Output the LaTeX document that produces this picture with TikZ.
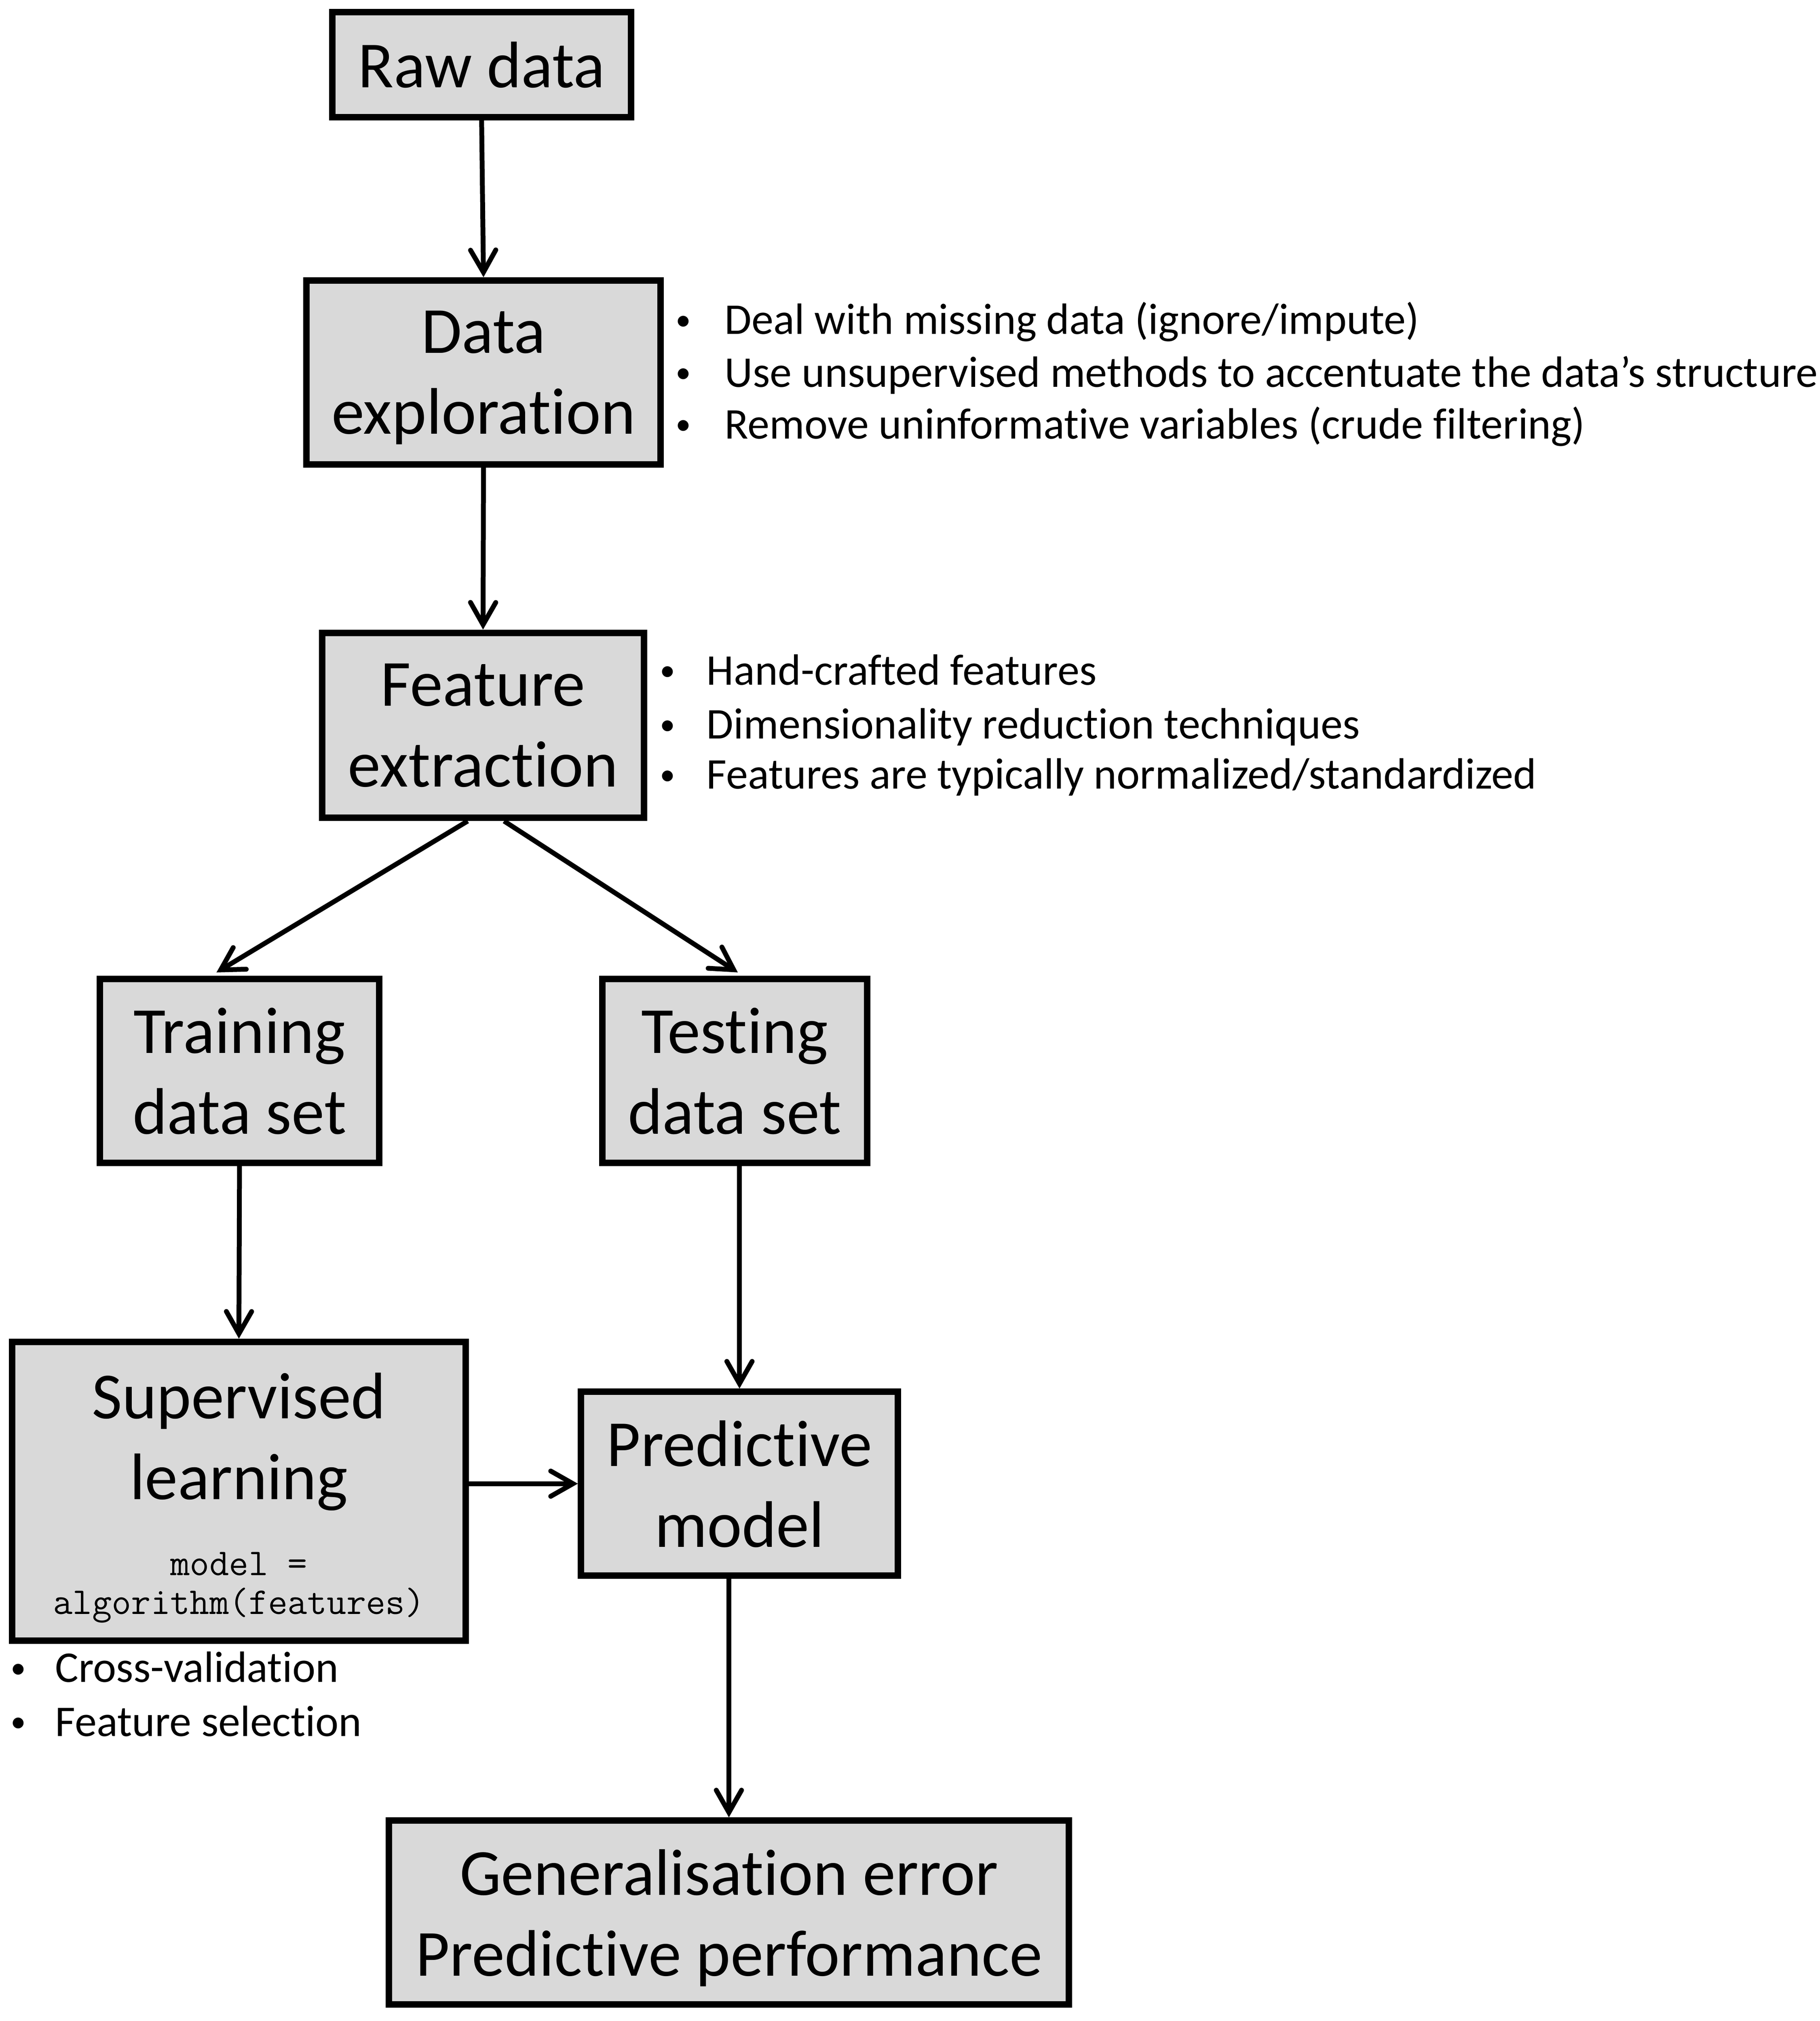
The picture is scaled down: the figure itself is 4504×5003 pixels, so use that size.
\documentclass[tikz,border=0pt]{standalone}
\usepackage{fontspec}
\usepackage{graphicx}
\setmainfont{Carlito}[Ligatures=NoCommon]
\usetikzlibrary{arrows.meta,calc}
\definecolor{boxgray}{HTML}{D9D9D9}
\newcommand{\mybul}[1]{\makebox[#1][l]{\hspace*{1.9pt}\raisebox{2.1pt}{\scalebox{0.7}{•}}}}
\begin{document}
\begin{tikzpicture}[x=0.2pt,y=-0.2pt,
  box/.style={draw=black, line width=3.2pt, fill=boxgray, inner sep=0pt, align=center,
    text depth=0pt, font=\fontsize{32.6pt}{40pt}\selectfont},
  boxtext/.style={inner sep=0pt, align=center, text depth=0pt, font=\fontsize{32.6pt}{40pt}\selectfont},
  codetext/.style={inner sep=0pt, align=center, font=\ttfamily\fontsize{18.8pt}{19.2pt}\selectfont},
  arr/.style={line width=2.4pt, -{Straight Barb[length=11pt,width=12.5pt,line cap=round,line join=miter]}},
  bul/.style={anchor=base west, inner sep=0pt, font=\fontsize{21.7pt}{26pt}\selectfont},
]
\useasboundingbox (0,0) rectangle (4504,5003);

% boxes
\node[box, minimum width=147.9pt, minimum height=52pt] (raw) at (1192,160) {Raw data};
\node[box, minimum width=175.3pt, minimum height=91pt] (dexp) at (1196.7,921.7) {Data\\exploration};
\node[box, minimum width=159.4pt, minimum height=91.6pt] (feat) at (1195.6,1795.5) {Feature\\extraction};
\node[box, minimum width=138.2pt, minimum height=91pt] (train) at (592.8,2650.7) {Training\\data set};
\node[box, minimum width=131.1pt, minimum height=91pt] (test) at (1818.2,2650.7) {Testing\\data set};
\node[box, minimum width=224.4pt, minimum height=147.9pt] (sup) at (591.3,3691.5) {};
\node[boxtext] (suptext) at (591.3,3555) {Supervised\\learning};
\node[codetext] (supcode) at (591.3,3930) {model =\\algorithm(features)};
\node[box, minimum width=156.8pt, minimum height=91pt] (pred) at (1830.3,3672.8) {Predictive\\model};
\node[box, minimum width=336.5pt, minimum height=91pt] (gen) at (1804.1,4734.3) {Generalisation error\\Predictive performance};

% bullet lists
\node[bul] (d1) at (1662,827) {\mybul{26.2pt}Deal with missing data (ignore/impute)};
\node[bul] (d2) at (1662,958) {\mybul{26.2pt}Use unsupervised methods to accentuate the data’s structure};
\node[bul] (d3) at (1662,1086) {\mybul{26.2pt}Remove uninformative variables (crude filtering)};

\node[bul] (f1) at (1623,1695) {\mybul{25pt}Hand-crafted features};
\node[bul] (f2) at (1623,1829) {\mybul{25pt}Dimensionality reduction techniques};
\node[bul] (f3) at (1623,1953) {\mybul{25pt}Features are typically normalized/standardized};

\node[bul] (s1) at (16,4164) {\mybul{24pt}Cross-validation};
\node[bul] (s2) at (16,4298) {\mybul{24pt}Feature selection};

% connectors
\draw[arr] (raw.south) -- (dexp.north);
\draw[arr] (dexp.south) -- (feat.north);
\draw[arr] ($(feat.south)+(-38,0)$) -- ($(train.north)+(-57,-8)$);
\draw[arr] ($(feat.south)+(52,0)$) -- ($(test.north)+(8,-8)$);
\draw[arr] (train.south) -- (sup.north);
\draw[arr] (test.south -| pred.north) -- (pred.north);
\draw[arr] (sup.east |- pred.west) -- (pred.west);
\draw[arr] (pred.south -| gen.north) -- (gen.north);
\end{tikzpicture}
\end{document}
